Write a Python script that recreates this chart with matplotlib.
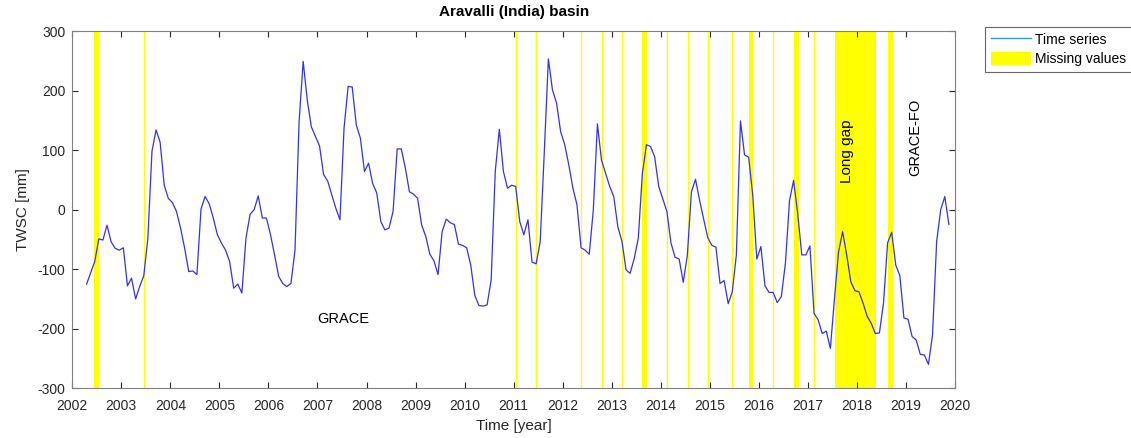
import numpy as np
import matplotlib
matplotlib.use("Agg")
import matplotlib.pyplot as plt
from matplotlib.lines import Line2D
from matplotlib.patches import Patch

plt.rcParams['font.family'] = ['Liberation Sans', 'DejaVu Sans']
plt.rcParams['axes.unicode_minus'] = False

# ---- data ----
start_year = 2002
start_month = 4  # April 2002
twsc = [
    # 2002 Apr-Dec
    -125, -106, -87, -49, -51, -26, -54, -65, -68,
    # 2003
    -64, -128, -115, -150, -129, -111, -48, 98, 134, 113, 41, 19,
    # 2004
    12, -3, -31, -65, -104, -103, -109, 1, 22, 10, -14, -42,
    # 2005
    -56, -68, -87, -132, -125, -140, -48, -8, 0, 23, -14, -14,
    # 2006
    -42, -76, -112, -124, -129, -124, -68, 148, 249, 184, 139, 123,
    # 2007
    107, 59, 48, 25, 2, -17, 137, 207, 206, 142, 120, 64,
    # 2008
    78, 44, 28, -20, -34, -31, -3, 102, 102, 70, 30, 26,
    # 2009
    19, -26, -45, -75, -86, -109, -37, -16, -22, -25, -58, -60,
    # 2010
    -64, -93, -144, -161, -162, -160, -118, 64, 135, 64, 36, 41,
    # 2011
    39, -20, -42, -17, -88, -91, -54, 97, 253, 201, 179, 131,
    # 2012
    109, 75, 36, 8, -64, -68, -75, 0, 144, 83, 61, 39,
    # 2013
    22, -29, -53, -101, -107, -82, -48, 61, 109, 106, 89, 39,
    # 2014
    18, -3, -56, -80, -83, -122, -77, 30, 51, 16, -16, -47,
    # 2015
    -60, -63, -124, -119, -158, -138, -76, 149, 92, 88, 25, -83,
    # 2016
    -62, -128, -139, -139, -156, -146, -90, 15, 49, -6, -76, -76,
    # 2017
    -61, -174, -185, -208, -204, -233, -150, -71, -37, -76, -121, -136,
    # 2018
    -138, -157, -179, -191, -208, -207, -157, -56, -38, -93, -111, -182,
    # 2019 Jan-Nov
    -184, -213, -219, -243, -244, -260, -210, -54, 0, 22, -25,
]

# missing-value spans (decimal years)
gap_starts = [2002.449, 2013.618, 2015.790, 2016.714, 2017.549, 2018.628]
gap_ends = [2002.544, 2013.716, 2015.888, 2016.810, 2018.379, 2018.726]
# single missing months shown as thin lines
thin_gaps = [2003.456, 2011.046, 2011.460, 2012.377, 2012.799, 2013.213,
             2014.134, 2014.546, 2014.970, 2015.460, 2016.291, 2017.127]

year_ticks = list(range(2002, 2021))
y_ticks = [-300, -200, -100, 0, 100, 200, 300]

# ---- derived time axis: mid-month decimal years ----
months = np.arange(len(twsc))
t = start_year + (start_month - 1 + months + 0.5) / 12.0

# ---- figure ----
fig = plt.figure(figsize=(11.31, 4.38), dpi=100)
ax = fig.add_axes([0.0639, 0.1135, 0.7805, 0.8157])

axis_col = '#262626'
for s, e in zip(gap_starts, gap_ends):
    ax.axvspan(s, e, color='#FFFF00', lw=0, zorder=1)
for x in thin_gaps:
    ax.axvline(x, color='#FFFF00', lw=1.0, zorder=1)

ax.plot(t, twsc, color='#3232F0', lw=0.9, zorder=3)

ax.set_xlim(2002, 2020)
ax.set_ylim(-300, 300)
ax.set_xticks(year_ticks)
ax.set_yticks(y_ticks)
ax.tick_params(direction='in', top=True, right=True, length=4,
               labelsize=10, colors=axis_col, width=0.8)
ax.tick_params(axis='x', pad=8)
ax.tick_params(axis='y', pad=5)
for sp in ax.spines.values():
    sp.set_color('#808080')
    sp.set_linewidth(0.8)

ax.set_title('Aravalli (India) basin', fontsize=11, fontweight='bold', pad=11,
             color='black')
ax.set_xlabel('Time [year]', fontsize=11, color=axis_col, labelpad=4)
ax.set_ylabel('TWSC [mm]', fontsize=11, color=axis_col, labelpad=5)

ax.text(2007.52, -183, 'GRACE', fontsize=10.5, ha='center', va='center')
ax.text(2017.80, 98, 'Long gap', fontsize=11, ha='center', va='center',
        rotation=90)
ax.text(2019.18, 121, 'GRACE-FO', fontsize=10.5, ha='center', va='center',
        rotation=90)

handles = [Line2D([], [], color='#3A96DD', lw=1.0),
           Patch(facecolor='#FFFF00', edgecolor='none')]
leg = fig.legend(handles, ['Time series', 'Missing values'],
                 loc='upper left', bbox_to_anchor=(0.871, 0.938),
                 fontsize=10, frameon=True, fancybox=False,
                 handlelength=2.9, handleheight=1.0, handletextpad=0.3,
                 borderpad=0.4, labelspacing=0.4, borderaxespad=0)
leg.get_frame().set_edgecolor('#404040')
leg.get_frame().set_linewidth(0.8)

fig.savefig('out.png', dpi=100)
